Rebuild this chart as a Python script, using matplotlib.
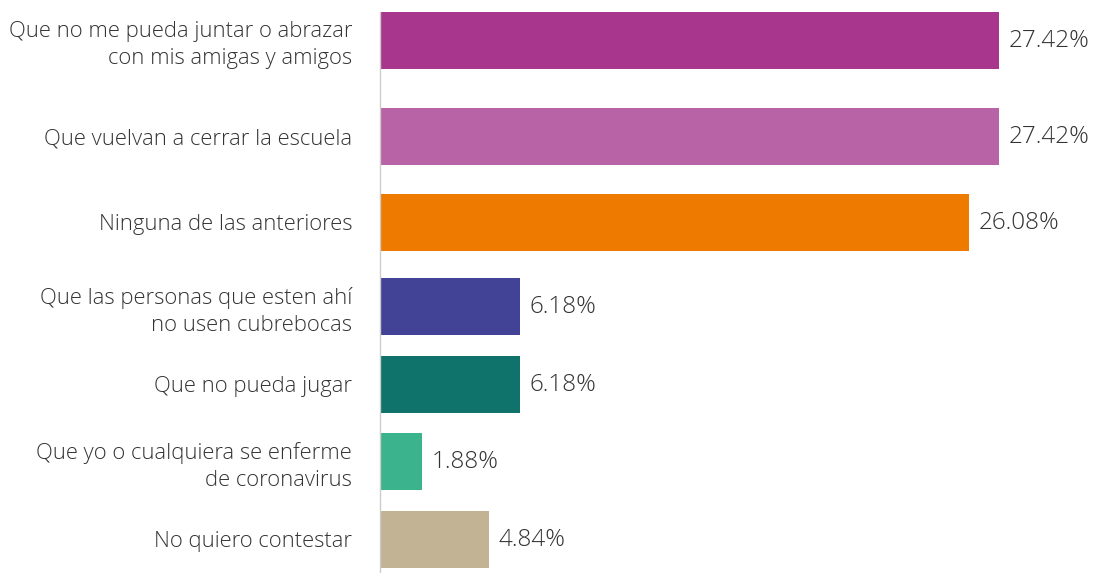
import matplotlib
matplotlib.use("Agg")
import matplotlib.pyplot as plt

categories = [
    "Que no me pueda juntar o abrazar\ncon mis amigas y amigos",
    "Que vuelvan a cerrar la escuela",
    "Ninguna de las anteriores",
    "Que las personas que esten ahí\nno usen cubrebocas",
    "Que no pueda jugar",
    "Que yo o cualquiera se enferme\nde coronavirus",
    "No quiero contestar",
]
values = [27.42, 27.42, 26.08, 6.18, 6.18, 1.88, 4.84]
value_labels = ["27.42%", "27.42%", "26.08%", "6.18%", "6.18%", "1.88%", "4.84%"]
colors = ["#A8368C", "#B863A5", "#EE7A00", "#424396", "#10736B", "#3BB48E", "#C2B395"]

# layout (pixel rows of bar centres)
y_pos = [40, 136, 222, 306, 384, 461, 539]
bar_h = 57

fam = ["Open Sans", "DejaVu Sans"]
txt_color = "#333333"

fig = plt.figure(figsize=(10.93, 5.73), dpi=100)
ax = fig.add_axes([380 / 1093, 0, (30 * 22.575) / 1093, 1])
ax.barh(y_pos, values, height=bar_h, color=colors)
ax.set_ylim(573, 0)
ax.set_xlim(0, 30)

ax.set_yticks(y_pos)
ax.set_yticklabels(categories, fontsize=15.8, color=txt_color, family=fam,
                   fontweight="light", linespacing=1.37)
ax.tick_params(axis="y", length=0, pad=20)
ax.set_xticks([])
for s in ["top", "right", "bottom"]:
    ax.spines[s].set_visible(False)
ax.spines["left"].set_color("#cccccc")
ax.spines["left"].set_linewidth(1)
ax.spines["left"].set_bounds(12, 573)

for y, v, lab in zip(y_pos, values, value_labels):
    ax.annotate(lab, (v + 0, y + 1), xytext=(7, 0), textcoords="offset points",
                va="center", ha="left", fontsize=17.5, color=txt_color,
                family=fam, fontweight="light")

fig.savefig("out.png", dpi=100)
